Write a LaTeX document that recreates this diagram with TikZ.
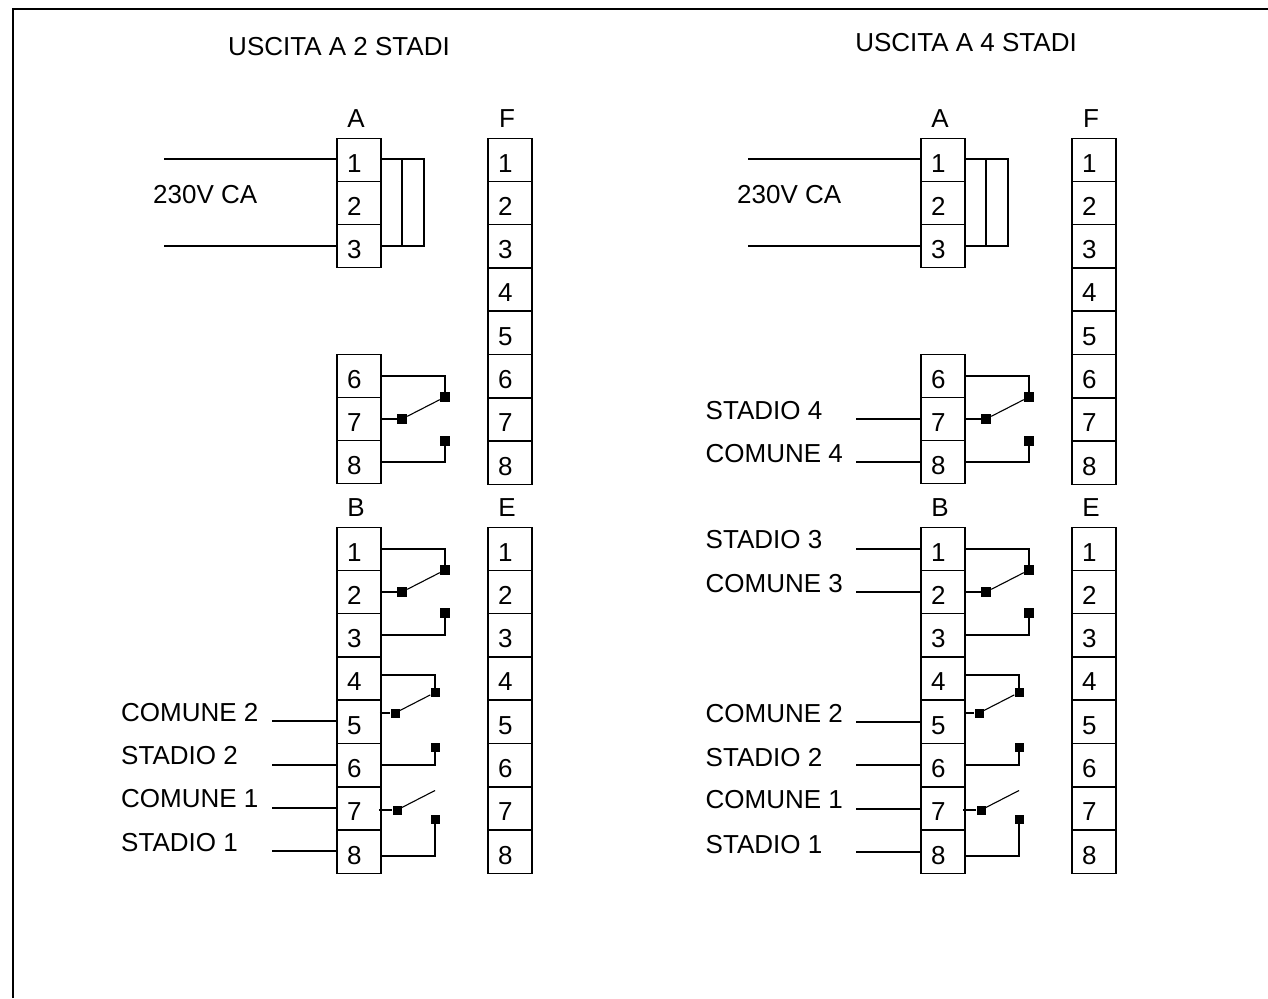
\documentclass[tikz,border=0pt]{standalone}
\usepackage{fontspec}
\setmainfont{Liberation Sans}
\tikzset{
	terminal/.style={draw,line width=1.5pt,minimum width=44pt,minimum height=43.3pt,inner sep=0,
		text width=24pt,align=left,font=\fontsize{26}{26}\selectfont,
		execute at begin node={\vskip -1.5pt}},
	wire/.style={line width=1.5pt},
	arm/.style={line width=1.1pt},
	contact/.style={fill=black,inner sep=0,minimum size=10pt},
	title/.style={inner sep=0,yshift=-1pt,font=\fontsize{26}{26}\selectfont},
	caption/.style={inner sep=0,yshift=-1pt,anchor=west,font=\fontsize{26}{26}\selectfont}
}
\begin{document}
\begin{tikzpicture}[x=1pt,y=-1pt]
\useasboundingbox (0,0) rectangle (1268,998);
\coordinate (frameBL) at (13,998);
\coordinate (frameTL) at (13,9);
\coordinate (frameTR) at (1268,9);
\draw[line width=1.4pt] (frameBL) -- (frameTL) -- (frameTR);
\node[title] (titleL) at (339,46) {USCITA A 2 STADI};
\node[title] (titleR) at (966,42) {USCITA A 4 STADI};
% both halves have the same terminals
\foreach \s/\dx in {L/0,R/584}{
	\begin{scope}[xshift=\dx pt]
	\node[title] (A\s) at (356,118) {A};
	\node[title] (F\s) at (507,118) {F};
	\node[title] (B\s) at (356,507) {B};
	\node[title] (E\s) at (507,507) {E};
	\foreach \n/\y in {1/160,2/203,3/246,6/376,7/419,8/462}
		\node[terminal] (A\s\n) at (359,\y) {\n};
	\foreach \n/\y in {1/160,2/203,3/246,4/289.5,5/333,6/376,7/419.5,8/463}
		\node[terminal] (F\s\n) at (510,\y) {\n};
	\foreach \n/\y in {1/549,2/592,3/635,4/678.5,5/722,6/765,7/808.5,8/852}{
		\node[terminal] (B\s\n) at (359,\y) {\n};
		\node[terminal] (E\s\n) at (510,\y) {\n};
	}
	% load on A
	\coordinate (resT\s) at (402,159);
	\coordinate (resB\s) at (402,246);
	\coordinate (resTT\s) at (424,159);
	\coordinate (resBB\s) at (424,246);
	\draw[wire] (A\s1.east |- resT\s) -- (resT\s) -- (resB\s) -- (A\s3.east |- resB\s);
	\draw[line width=1.1pt] (resT\s) -- (resTT\s) -- (resBB\s) -- (resB\s);
	% relay A 6-7-8
	\node[contact] (c\s a) at (445,397) {};
	\node[contact] (c\s b) at (445,440.5) {};
	\node[contact] (c\s m) at (402,419) {};
	\draw[wire] (A\s6.east) -| (c\s a);
	\draw[wire] (A\s7.east) -- (c\s m);
	\draw[arm] (c\s m) -- (c\s a);
	\draw[wire] (A\s8.east) -| (c\s b);
	% relay B 1-2-3
	\node[contact] (d\s a) at (445,570) {};
	\node[contact] (d\s b) at (445,613) {};
	\node[contact] (d\s m) at (402,592) {};
	\draw[wire] (B\s1.east) -| (d\s a);
	\draw[wire] (B\s2.east) -- (d\s m);
	\draw[arm] (d\s m) -- (d\s a);
	\draw[wire] (B\s3.east) -| (d\s b);
	% relay B 4-5-6
	\node[contact,minimum size=9pt] (e\s a) at (435,692.5) {};
	\node[contact,minimum size=9pt] (e\s b) at (435,747.5) {};
	\node[contact,minimum size=9pt] (e\s m) at (395,713) {};
	\draw[wire] (B\s4.east |- 0,675) -| (e\s a);
	\draw[wire] ([xshift=-2pt]B\s5.east |- e\s m) -- (e\s m);
	\draw[arm] (e\s m) -- (e\s a);
	\draw[wire] (B\s6.east) -| (e\s b);
	% relay B 7-8
	\node[contact,minimum size=9pt] (f\s b) at (435,819) {};
	\node[contact,minimum size=9pt] (f\s m) at (397,810) {};
	\coordinate (f\s a) at (435,790.5);
	\draw[wire] ([xshift=-3pt]B\s7.east |- f\s m) -- (f\s m);
	\draw[arm] (f\s m) -- (f\s a);
	\draw[wire] (B\s8.east |- 0,856) -| (f\s b);
	\end{scope}
}
% mains on both sides
\foreach \s/\x/\t in {L/164/153,R/748/737}{
	\coordinate (m\s a) at (\x,159);
	\coordinate (m\s b) at (\x,246);
	\draw[wire] (m\s a) -- (A\s1.west |- m\s a);
	\draw[wire] (m\s b) -- (A\s3.west |- m\s b);
	\node[caption] (sup\s) at (\t,194) {230V CA};
}
% field wires, left
\foreach \n/\lab/\y/\w/\ty in {5/COMUNE 2/721/a/712,6/STADIO 2/765/b/755,7/COMUNE 1/808/c/798,8/STADIO 1/851/d/842}{
	\coordinate (wL\w) at (272,\y);
	\draw[wire] (wL\w) -- (BL\n.west |- wL\w);
	\node[caption] (txtL\w) at (121,\ty) {\lab};
}
% field wires, right
\foreach \n/\lab/\y/\w/\ty in {1/STADIO 3/549/e/539,2/COMUNE 3/592/f/583,5/COMUNE 2/722/a/713,6/STADIO 2/765/b/757,7/COMUNE 1/809/c/799,8/STADIO 1/852/d/844}{
	\coordinate (wR\w) at (856,\y);
	\draw[wire] (wR\w) -- (BR\n.west |- wR\w);
	\node[caption] (txtR\w) at (705.5,\ty) {\lab};
}
\foreach \n/\lab/\y/\w/\ty in {7/STADIO 4/419/g/410,8/COMUNE 4/462/h/453}{
	\coordinate (wR\w) at (856,\y);
	\draw[wire] (wR\w) -- (AR\n.west |- wR\w);
	\node[caption] (txtR\w) at (705.5,\ty) {\lab};
}
\end{tikzpicture}
\end{document}
